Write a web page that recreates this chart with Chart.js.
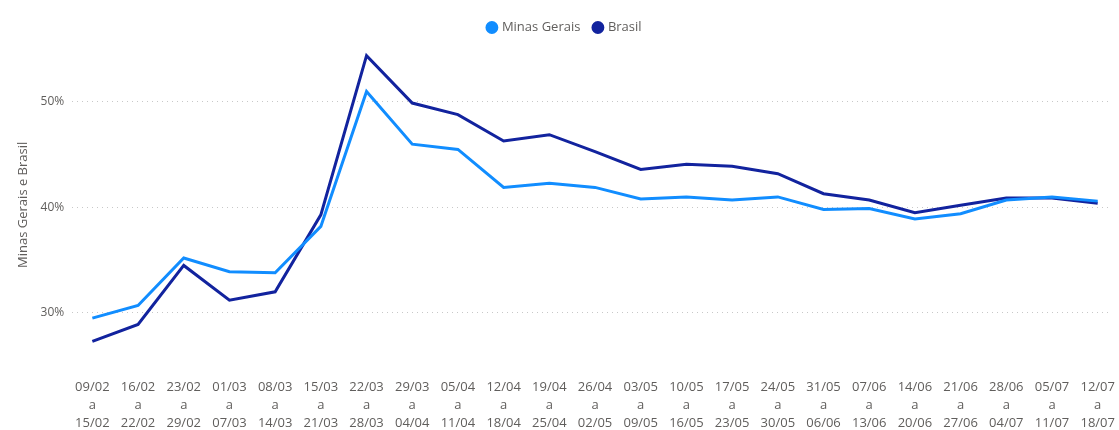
<!DOCTYPE html>
<html>
<head>
<meta charset="utf-8">
<script src="https://cdn.jsdelivr.net/npm/chart.js@4/dist/chart.umd.min.js"></script>
<style>
  body { margin: 0; background: #fff; }
  #wrap { width: 1119px; height: 430px; position: relative; }
</style>
</head>
<body>
<div id="wrap"><canvas id="lineChart"></canvas></div>
<script>
// semanas (início / fim)
const weekStart = ["09/02", "16/02", "23/02", "01/03", "08/03", "15/03", "22/03", "29/03", "05/04", "12/04", "19/04", "26/04",
  "03/05", "10/05", "17/05", "24/05", "31/05", "07/06", "14/06", "21/06", "28/06", "05/07", "12/07"];
const weekEnd = ["15/02", "22/02", "29/02", "07/03", "14/03", "21/03", "28/03", "04/04", "11/04", "18/04", "25/04", "02/05",
  "09/05", "16/05", "23/05", "30/05", "06/06", "13/06", "20/06", "27/06", "04/07", "11/07", "18/07"];

const minasGerais = [29.5, 30.7, 35.2, 33.9, 33.8, 38.2, 51.0, 46.0, 45.5, 41.9, 42.3, 41.9,
  40.8, 41.0, 40.7, 41.0, 39.8, 39.9, 38.9, 39.4, 40.7, 41.0, 40.6];
const brasil = [27.3, 28.9, 34.5, 31.2, 32.0, 39.3, 54.4, 49.9, 48.8, 46.3, 46.9, 45.3,
  43.6, 44.1, 43.9, 43.2, 41.3, 40.7, 39.5, 40.2, 40.9, 40.9, 40.4];

const yTicks = [30, 40, 50];

const toPoints = (arr) => arr.map((v, i) => ({ x: i, y: v }));
const grey = "#605e5c";
const fontFamily = "'Segoe UI', 'Open Sans', 'Noto Sans', sans-serif";

const ctx = document.getElementById("lineChart").getContext("2d");
new Chart(ctx, {
  type: "line",
  data: {
    datasets: [
      {
        label: "Minas Gerais",
        data: toPoints(minasGerais),
        borderColor: "#118DFF",
        backgroundColor: "#118DFF",
        borderWidth: 3,
        pointRadius: 0,
        tension: 0,
      },
      {
        label: "Brasil",
        data: toPoints(brasil),
        borderColor: "#12239E",
        backgroundColor: "#12239E",
        borderWidth: 3,
        pointRadius: 0,
        tension: 0,
      },
    ],
  },
  options: {
    responsive: true,
    maintainAspectRatio: false,
    animation: false,
    layout: { padding: { left: 15, right: 4, top: 7, bottom: -7 } },
    plugins: {
      legend: {
        position: "top",
        labels: {
          usePointStyle: true,
          pointStyle: "circle",
          boxWidth: 7,
          boxHeight: 7,
          padding: 14,
          color: grey,
          font: { family: fontFamily, size: 13 },
        },
      },
      tooltip: { enabled: false },
    },
    scales: {
      x: {
        type: "linear",
        min: -0.44,
        max: 22.28,
        afterBuildTicks: (axis) => {
          axis.ticks = weekStart.map((_, i) => ({ value: i }));
        },
        ticks: {
          autoSkip: false,
          maxRotation: 0,
          color: grey,
          padding: 4,
          font: { family: fontFamily, size: 13, lineHeight: 1.42 },
          callback: (value) => [weekStart[value], "a", weekEnd[value]],
        },
        grid: { display: false },
        border: { display: false },
      },
      y: {
        min: 25,
        max: 55.5,
        afterBuildTicks: (axis) => {
          axis.ticks = yTicks.map((v) => ({ value: v }));
        },
        ticks: {
          color: grey,
          padding: 8,
          font: { family: fontFamily, size: 12 },
          callback: (value) => value + "%",
        },
        grid: {
          color: "#c8c8c8",
          lineWidth: 1,
          drawTicks: false,
        },
        border: { display: false, dash: [1, 4] },
        title: {
          display: true,
          text: "Minas Gerais e Brasil",
          color: grey,
          font: { family: fontFamily, size: 13 },
          padding: { top: 0, bottom: 2 },
        },
      },
    },
  },
});
</script>
</body>
</html>
